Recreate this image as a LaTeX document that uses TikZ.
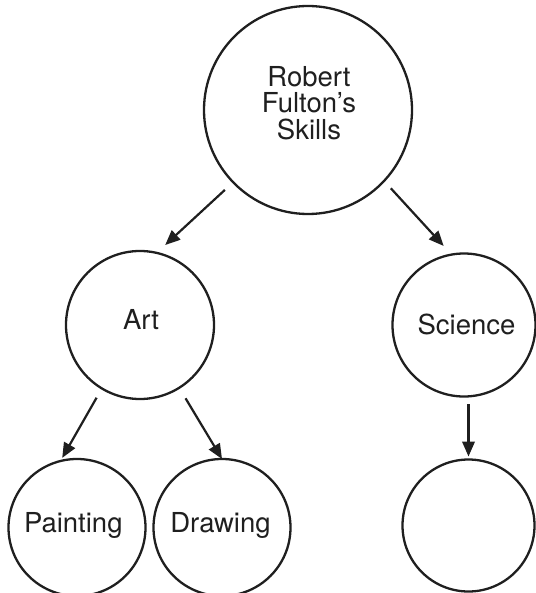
\documentclass[tikz,border=0pt]{standalone}
\usepackage{fontspec}
\setmainfont{TeX Gyre Heros}
\usetikzlibrary{arrows.meta}
\begin{document}
\begin{tikzpicture}[x=1pt,y=-1pt,
  circ/.style={circle,draw=black!88,line width=2.3pt,inner sep=0pt,outer sep=0pt},
  lbl/.style={inner sep=0pt,outer sep=0pt,align=center,text=black!88,
    font=\fontsize{27.5}{26.5}\selectfont},
  arr/.style={draw=black!88,line width=2.2pt,-{Triangle[length=15pt,width=12.5pt]}}]
\useasboundingbox (0,0) rectangle (535,593);
\node[circ,minimum size=208pt] (top) at (308,110) {};
\node[circ,minimum size=148pt] (art) at (140,325) {};
\node[circ,minimum size=143pt] (sci) at (464,325) {};
\node[circ,minimum size=137pt] (pai) at (77,527.5) {};
\node[circ,minimum size=137pt] (dra) at (222,527.5) {};
\node[circ,minimum size=132pt] (emp) at (468.5,525.5) {};
\node[lbl] (toptext) at (309,103) {Robert\\Fulton’s\\Skills};
\node[lbl,anchor=base] (arttext) at (141,329.3) {Art};
\node[lbl,anchor=base] (scitext) at (466.5,334) {Science};
\node[lbl,anchor=base] (paitext) at (73.3,532.7) {Painting};
\node[lbl,anchor=base] (dratext) at (220.5,532.7) {Drawing};
\draw[arr,shorten <=11.3pt,shorten >=11.6pt] (top.224) -- (art.77);
\draw[arr,shorten <=10pt,shorten >=11.7pt] (top.317.3) -- (sci.100.6);
\draw[arr,shorten <=10.7pt,shorten >=3.6pt] (art.239.5) -- (pai.104.2);
\draw[arr,shorten <=12.3pt,shorten >=0pt] (art.302.5) -- (dra.90);
\draw[arr,shorten <=7.5pt,shorten >=3pt] (emp.north |- sci.south) -- (emp.north);
\end{tikzpicture}
\end{document}
